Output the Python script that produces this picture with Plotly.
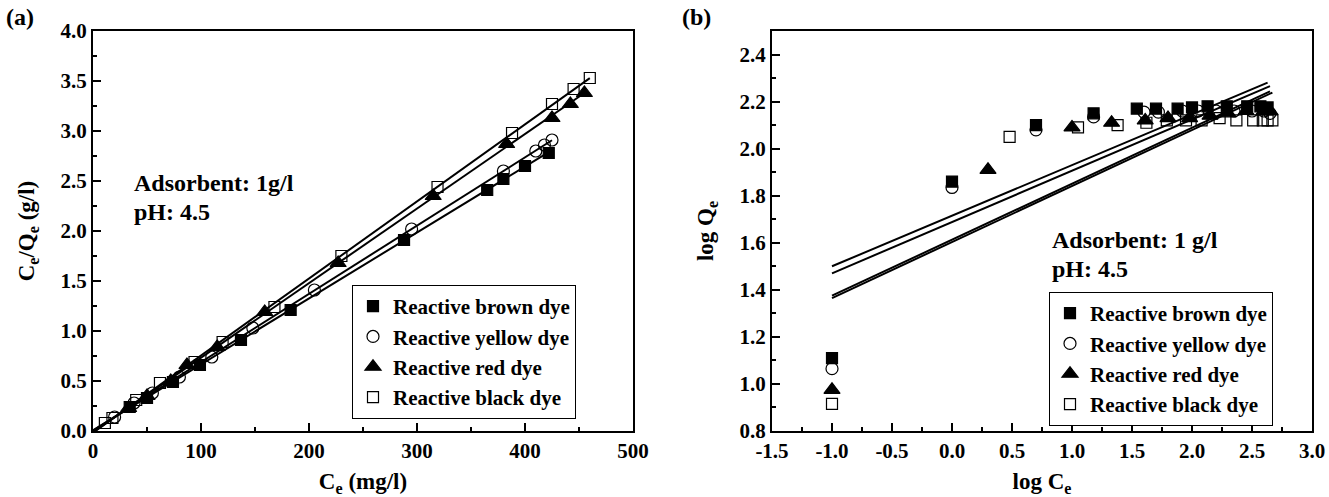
import numpy as np
import plotly.graph_objects as go

# ---------------- data: panel (a) Langmuir  Ce (mg/l) vs Ce/Qe (g/l)
dyes = ["Reactive brown dye", "Reactive yellow dye", "Reactive red dye", "Reactive black dye"]

a_brown_x = [34, 50, 74, 99, 137, 183, 288, 365, 380, 400, 422]
a_brown_y = [0.24, 0.33, 0.49, 0.66, 0.91, 1.21, 1.91, 2.41, 2.52, 2.65, 2.78]
a_yellow_x = [20, 38, 55, 80, 110, 148, 205, 295, 380, 410, 418, 425]
a_yellow_y = [0.14, 0.28, 0.38, 0.54, 0.74, 1.03, 1.41, 2.02, 2.60, 2.80, 2.86, 2.91]
a_red_x = [33, 50, 72, 87, 115, 159, 227, 315, 383, 425, 442, 455]
a_red_y = [0.23, 0.35, 0.50, 0.66, 0.84, 1.19, 1.68, 2.35, 2.87, 3.13, 3.27, 3.38]
a_black_x = [11, 18, 40, 62, 94, 120, 168, 230, 319, 388, 425, 445, 460]
a_black_y = [0.08, 0.13, 0.31, 0.48, 0.69, 0.89, 1.24, 1.75, 2.44, 2.98, 3.27, 3.42, 3.53]

# ---------------- data: panel (b) Freundlich  log Ce vs log Qe
b_brown_x = [-1.0, 0.0, 0.7, 1.18, 1.54, 1.70, 1.88, 2.00, 2.13, 2.29, 2.46, 2.57, 2.63]
b_brown_y = [1.11, 1.86, 2.10, 2.15, 2.17, 2.17, 2.17, 2.175, 2.18, 2.18, 2.18, 2.18, 2.175]
b_yellow_x = [-1.0, 0.0, 0.7, 1.18, 1.60, 1.72, 1.92, 2.05, 2.20, 2.35, 2.50, 2.60, 2.65]
b_yellow_y = [1.065, 1.835, 2.08, 2.135, 2.155, 2.155, 2.16, 2.16, 2.16, 2.16, 2.16, 2.16, 2.15]
b_red_x = [-1.0, 0.3, 1.0, 1.33, 1.61, 1.80, 1.98, 2.15, 2.30, 2.45, 2.60, 2.65]
b_red_y = [0.975, 1.91, 2.09, 2.11, 2.12, 2.13, 2.13, 2.14, 2.15, 2.16, 2.16, 2.16]
b_black_x = [-1.0, 0.48, 1.05, 1.38, 1.62, 1.79, 1.95, 2.08, 2.23, 2.37, 2.51, 2.59, 2.63, 2.67]
b_black_y = [0.915, 2.05, 2.09, 2.10, 2.11, 2.12, 2.12, 2.12, 2.13, 2.12, 2.12, 2.12, 2.12, 2.12]

# Freundlich fit parameters (log KF, 1/n)
b_logkf = [1.715, 1.688, 1.613, 1.603]
b_inv_n = [0.215, 0.218, 0.238, 0.238]

# ticks
a_xticks = [0, 100, 200, 300, 400, 500]
a_yticks = [0.0, 0.5, 1.0, 1.5, 2.0, 2.5, 3.0, 3.5, 4.0]
b_xticks = [-1.5, -1.0, -0.5, 0.0, 0.5, 1.0, 1.5, 2.0, 2.5, 3.0]
b_yticks = [0.8, 1.0, 1.2, 1.4, 1.6, 1.8, 2.0, 2.2, 2.4]

symbols = ["square", "circle-open", "triangle-up", "square-open"]
sizes = [11, 12, 14, 11]

FONT = "Liberation Serif"
W, H = 1329, 497

a_sets = [(a_brown_x, a_brown_y), (a_yellow_x, a_yellow_y), (a_red_x, a_red_y), (a_black_x, a_black_y)]
b_sets = [(b_brown_x, b_brown_y), (b_yellow_x, b_yellow_y), (b_red_x, b_red_y), (b_black_x, b_black_y)]

fig = go.Figure()

# panel (a): fitted lines then markers
for (xs, ys) in a_sets:
    k, b = np.polyfit(xs, ys, 1)
    lx = np.array([0.0, max(xs)])
    fig.add_trace(go.Scatter(x=lx, y=k * lx + b, mode="lines", line=dict(color="black", width=2),
                             showlegend=False, xaxis="x", yaxis="y", hoverinfo="skip"))
for i, (xs, ys) in enumerate(a_sets):
    fig.add_trace(go.Scatter(x=xs, y=ys, mode="markers", name=dyes[i],
                             marker=dict(symbol=symbols[i], size=sizes[i], color="black",
                                         line=dict(color="black", width=1.2)),
                             xaxis="x", yaxis="y", legend="legend"))

# panel (b)
for i, (xs, ys) in enumerate(b_sets):
    lx = np.array([min(xs), max(xs)])
    fig.add_trace(go.Scatter(x=lx, y=b_logkf[i] + b_inv_n[i] * lx, mode="lines",
                             line=dict(color="black", width=2), showlegend=False,
                             xaxis="x2", yaxis="y2", hoverinfo="skip"))
for i, (xs, ys) in enumerate(b_sets):
    fig.add_trace(go.Scatter(x=xs, y=ys, mode="markers", name=dyes[i],
                             marker=dict(symbol=symbols[i], size=sizes[i], color="black",
                                         line=dict(color="black", width=1.2)),
                             xaxis="x2", yaxis="y2", legend="legend2"))

tickfont = dict(family=FONT, size=21, color="black", weight="bold")
titlefont = dict(family=FONT, size=23, color="black", weight="bold")
annfont = dict(family=FONT, size=24, color="black", weight="bold")
legfont = dict(family=FONT, size=21, color="black", weight="bold")

def ax(domain, rng, ticks, fmt, minor_dtick, title, anchor, standoff):
    return dict(domain=domain, range=rng, tickmode="array", tickvals=ticks,
                ticktext=[fmt.format(t) for t in ticks],
                ticks="inside", ticklen=8, tickwidth=2, tickcolor="black",
                minor=dict(ticks="inside", ticklen=4, tickwidth=1.5, tickcolor="black", dtick=minor_dtick,
                           showgrid=False),
                showline=True, linewidth=2, linecolor="black", mirror=True,
                showgrid=False, zeroline=False, tickfont=tickfont,
                title=dict(text=title, font=titlefont, standoff=standoff),
                anchor=anchor, automargin=False)

ytop = 1 - 31 / H
ybot = 1 - 431 / H

fig.update_layout(
    width=W, height=H, margin=dict(l=0, r=0, t=0, b=0),
    paper_bgcolor="white", plot_bgcolor="white",
    xaxis=ax([93 / W, 633 / W], [0, 500], a_xticks, "{:.0f}", 50, "C<sub>e</sub> (mg/l)", "y", 14),
    yaxis=ax([ybot, ytop], [0, 4.0], a_yticks, "{:.1f}", 0.25, "C<sub>e</sub>/Q<sub>e</sub> (g/l)", "x", 19),
    xaxis2=ax([772 / W, 1312 / W], [-1.5, 3.0], b_xticks, "{:.1f}", 0.25, "log C<sub>e</sub>", "y2", 14),
    yaxis2=ax([ybot, ytop], [0.8, 2.5], b_yticks, "{:.1f}", 0.1, "log Q<sub>e</sub>", "x2", 19),
    legend=dict(x=352 / W, y=1 - 285 / H, xanchor="left", yanchor="top",
                bordercolor="black", borderwidth=1, bgcolor="white",
                font=legfont, itemwidth=30, tracegroupgap=0),
    legend2=dict(x=1049 / W, y=1 - 292 / H, xanchor="left", yanchor="top",
                 bordercolor="black", borderwidth=1, bgcolor="white",
                 font=legfont, itemwidth=30, tracegroupgap=0),
    annotations=[
        dict(text="(a)", x=4 / W, y=1 - 17 / H, xref="paper", yref="paper", xanchor="left", yanchor="middle",
             showarrow=False, font=annfont),
        dict(text="(b)", x=680 / W, y=1 - 17 / H, xref="paper", yref="paper", xanchor="left", yanchor="middle",
             showarrow=False, font=annfont),
        dict(text="Adsorbent: 1g/l", x=132 / W, y=1 - 183 / H, xref="paper", yref="paper",
             xanchor="left", yanchor="middle", showarrow=False, font=annfont),
        dict(text="pH: 4.5", x=132 / W, y=1 - 212 / H, xref="paper", yref="paper",
             xanchor="left", yanchor="middle", showarrow=False, font=annfont),
        dict(text="Adsorbent: 1 g/l", x=1050 / W, y=1 - 240 / H, xref="paper", yref="paper",
             xanchor="left", yanchor="middle", showarrow=False, font=annfont),
        dict(text="pH: 4.5", x=1050 / W, y=1 - 269 / H, xref="paper", yref="paper",
             xanchor="left", yanchor="middle", showarrow=False, font=annfont),
    ],
)

fig.write_html("out.html")
